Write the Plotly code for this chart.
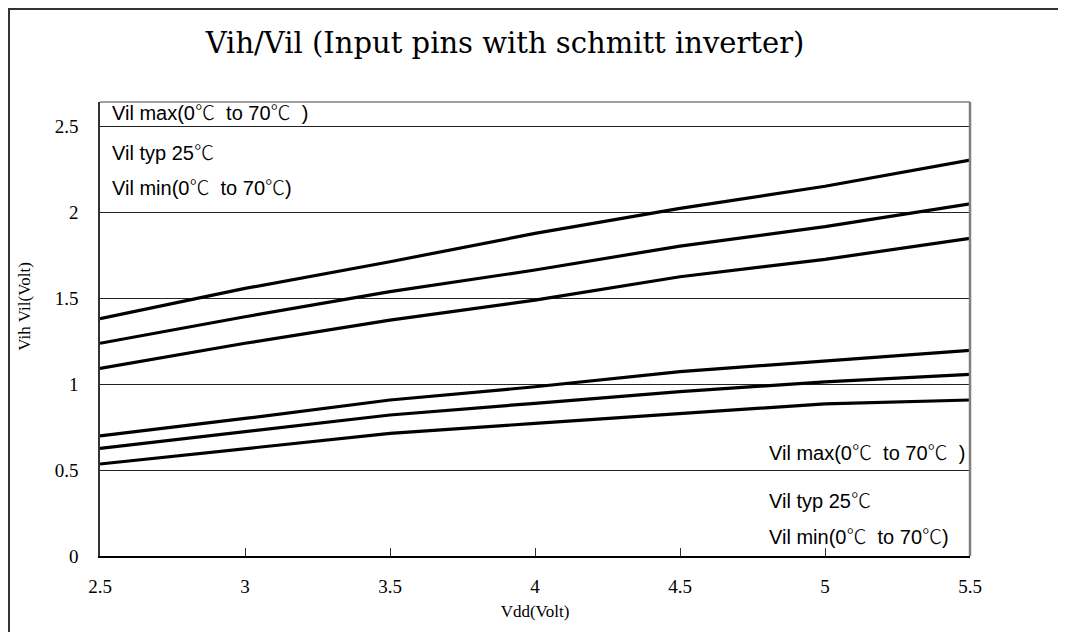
import plotly.graph_objects as go

vdd = [2.5, 3.0, 3.5, 4.0, 4.5, 5.0, 5.5]

vih_max = [1.38, 1.556, 1.711, 1.876, 2.021, 2.150, 2.302]
vih_typ = [1.237, 1.391, 1.537, 1.663, 1.802, 1.915, 2.048]
vih_min = [1.091, 1.237, 1.372, 1.488, 1.624, 1.725, 1.847]
vil_max = [0.698, 0.800, 0.907, 0.984, 1.072, 1.132, 1.196]
vil_typ = [0.626, 0.723, 0.820, 0.888, 0.956, 1.013, 1.056]
vil_min = [0.535, 0.626, 0.713, 0.771, 0.826, 0.885, 0.907]

series = [vih_max, vih_typ, vih_min, vil_max, vil_typ, vil_min]

x_ticks = [2.5, 3, 3.5, 4, 4.5, 5, 5.5]
x_tick_text = ["2.5", "3", "3.5", "4", "4.5", "5", "5.5"]
y_ticks = [0, 0.5, 1, 1.5, 2, 2.5]
y_tick_text = ["0", "0.5", "1", "1.5", "2", "2.5"]

DEG = "<span style=\"font-family:'Noto Sans CJK TC';font-weight:300\">℃</span>"
NB = "\u00a0"
top_labels = ["Vil max(0" + DEG + NB + " to 70" + DEG + NB + " )",
              "Vil typ 25" + DEG,
              "Vil min(0" + DEG + NB + " to 70" + DEG + ")"]
top_label_y = [2.583, 2.35, 2.147]
bottom_labels = list(top_labels)
bottom_label_y = [0.606, 0.326, 0.122]

# page has an 8px body margin; figure sized to fit the 1066x632 window
W, H = 1058, 624
L, R, T, B = 92, 962, 94, 548  # plot area in figure coordinates

fig = go.Figure()
for s in series:
    fig.add_trace(go.Scatter(x=vdd, y=s, mode="lines",
                             line=dict(color="black", width=3.2),
                             showlegend=False, hoverinfo="skip"))

serif = "Liberation Serif, Times New Roman, serif"
title_serif = "DejaVu Serif, serif"
sans = "Liberation Sans, Arial, sans-serif"

annotations = []
for t, y in zip(top_labels, top_label_y):
    annotations.append(dict(x=2.535, y=y, xref="x", yref="y", text=t, showarrow=False,
                            xanchor="left", yanchor="middle",
                            font=dict(family=sans, size=20, color="black")))
for t, y in zip(bottom_labels, bottom_label_y):
    annotations.append(dict(x=4.80, y=y, xref="x", yref="y", text=t, showarrow=False,
                            xanchor="left", yanchor="middle",
                            font=dict(family=sans, size=20, color="black")))


def px(xp):
    return (xp - L) / (R - L)


def py(yp):
    return (B - yp) / (B - T)


# y axis title as annotation (placed off-centre like the reference)
annotations.append(dict(x=px(17), y=1.45, xref="paper", yref="y", text="Vih Vil(Volt)",
                        showarrow=False, textangle=-90, xanchor="center", yanchor="middle",
                        font=dict(family=serif, size=17, color="black")))

shapes = [
    # outer frame (top and left)
    dict(type="line", xref="paper", yref="paper", x0=px(0), x1=px(1070), y0=py(1), y1=py(1),
         line=dict(color="#333333", width=2)),
    dict(type="line", xref="paper", yref="paper", x0=px(1), x1=px(1), y0=py(0), y1=py(640),
         line=dict(color="#333333", width=2)),
    # plot box top and right
    dict(type="line", xref="paper", yref="paper", x0=0, x1=1, y0=1, y1=1,
         line=dict(color="#808080", width=1.5)),
    dict(type="line", xref="paper", yref="paper", x0=1, x1=1, y0=0, y1=1,
         line=dict(color="#808080", width=2.5)),
]

fig.update_layout(
    width=W, height=H,
    margin=dict(l=L, r=W - R, t=T, b=H - B),
    paper_bgcolor="white", plot_bgcolor="white",
    title=dict(text="Vih/Vil (Input pins with schmitt inverter)", x=497 / W, xanchor="center",
               y=1 - 35 / H, yanchor="middle",
               font=dict(family=title_serif, size=29, color="black")),
    xaxis=dict(range=[2.5, 5.5], tickvals=x_ticks, ticktext=x_tick_text,
               showgrid=False, zeroline=False, showline=True, linecolor="black", linewidth=1.5,
               ticks="inside", ticklen=8, tickcolor="#333333", tickwidth=1,
               ticklabelstandoff=12,
               tickfont=dict(family=serif, size=19, color="black"),
               title=dict(text="Vdd(Volt)", font=dict(family=serif, size=17, color="black"),
                          standoff=10)),
    yaxis=dict(range=[0, 2.64], tickvals=y_ticks, ticktext=y_tick_text,
               showgrid=True, gridcolor="#222222", gridwidth=1,
               zeroline=False, showline=True, linecolor="#333333", linewidth=1.5,
               ticks="", ticklabelstandoff=16,
               tickfont=dict(family=serif, size=19, color="black")),
    annotations=annotations,
    shapes=shapes,
)

fig.write_html("out.html")
